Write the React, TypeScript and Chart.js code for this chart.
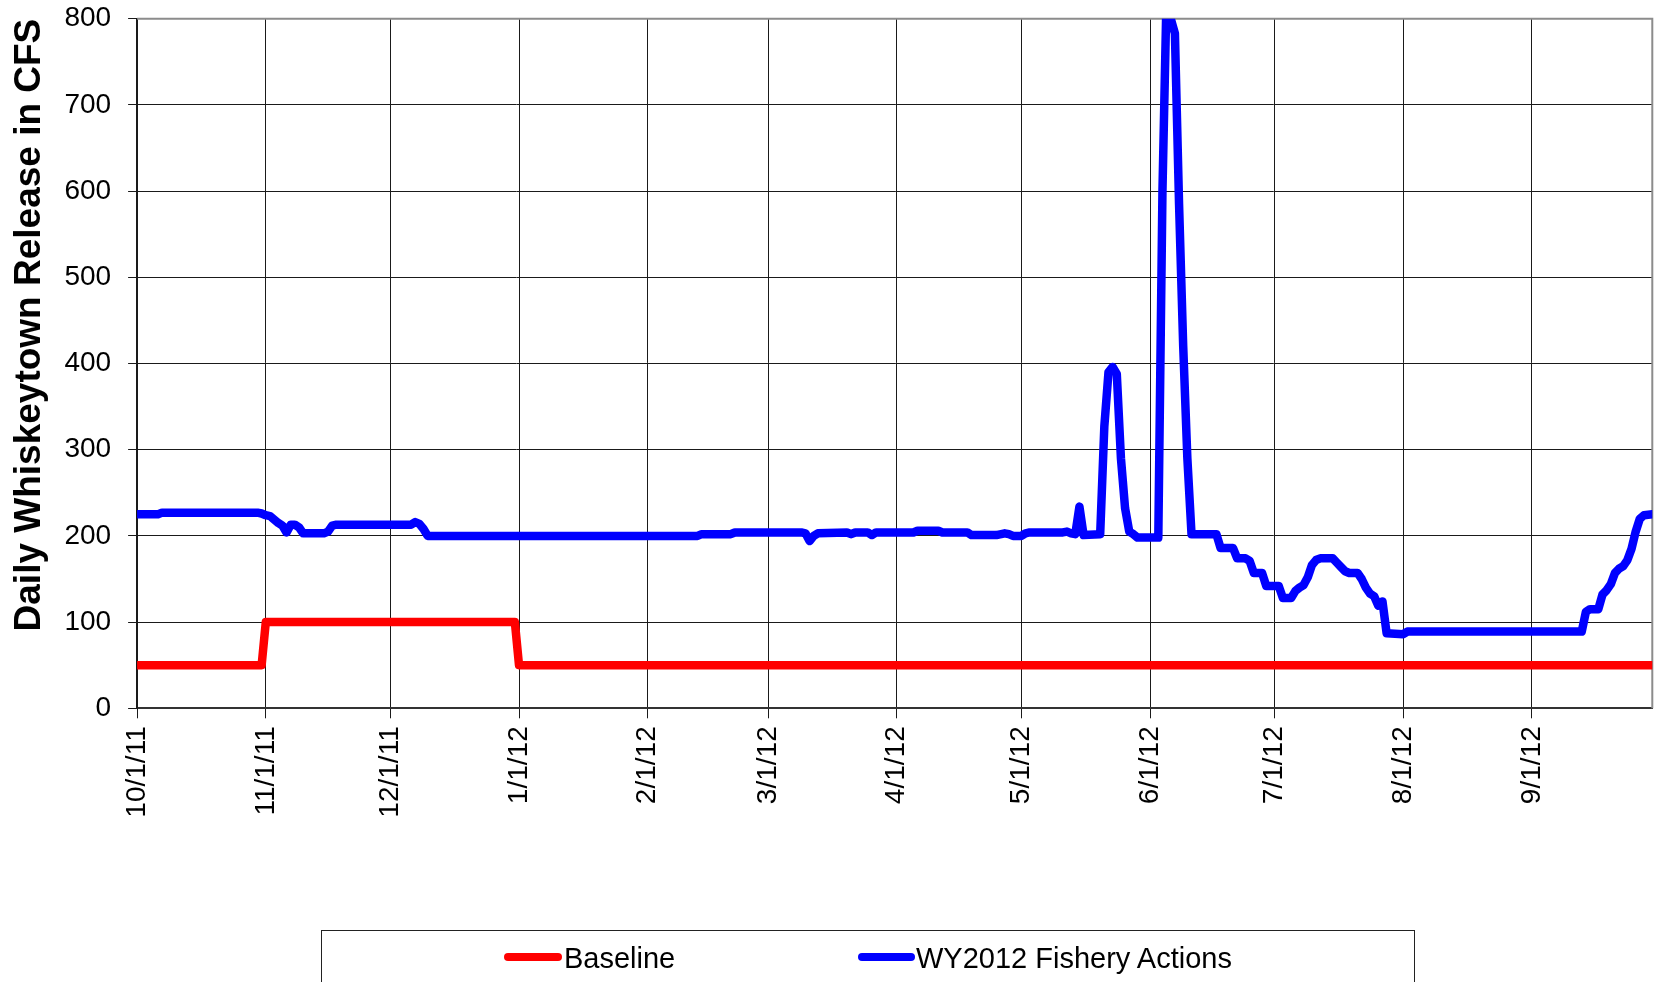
import React, { useEffect, useRef } from "react";
import { Chart, registerables } from "chart.js";

Chart.register(...registerables);

// Day index 0 = 10/1/11 ... 365 = 9/30/12
const monthTickDays = [0, 31, 61, 92, 123, 152, 183, 213, 244, 274, 305, 336];
const monthTickLabels = [
  "10/1/11", "11/1/11", "12/1/11", "1/1/12", "2/1/12", "3/1/12",
  "4/1/12", "5/1/12", "6/1/12", "7/1/12", "8/1/12", "9/1/12",
];

const baselineDays = [0, 30, 31, 91, 92, 365];
const baselineCfs = [50, 50, 100, 100, 50, 50];

const fisheryDays = [
  0, 5, 6, 29, 30, 31, 32, 33, 34, 35, 36, 37, 38, 39, 40, 45, 46, 47, 48, 66,
  67, 68, 69, 70, 135, 136, 143, 144, 160, 161, 162, 163, 164, 171, 172, 173, 176, 177, 178, 187,
  188, 193, 194, 200, 201, 207, 209, 210, 211, 213, 214, 215, 223, 224, 225, 226, 227, 228, 232, 233,
  234, 235, 236, 237, 238, 239, 240, 241, 246, 247, 248, 249, 250, 251, 252, 253, 254, 260, 261, 264,
  265, 267, 268, 269, 271, 272, 275, 276, 278, 279, 280, 281, 282, 283, 284, 285, 288, 289, 290, 291,
  292, 294, 295, 296, 297, 298, 299, 300, 301, 305, 306, 348, 349, 350, 352, 353, 354, 355, 356, 357,
  358, 359, 360, 361, 362, 363, 365,
];
const fisheryCfs = [
  225, 225, 227, 227, 226, 224, 223, 219, 215, 212, 204, 213, 213, 210, 203, 203, 205, 212, 213, 213,
  216, 214, 208, 200, 200, 202, 202, 204, 204, 203, 194, 200, 203, 204, 202, 204, 204, 201, 204, 204,
  206, 206, 204, 204, 201, 201, 203, 202, 200, 200, 203, 204, 204, 205, 203, 202, 234, 201, 202, 327,
  390, 396, 388, 290, 232, 205, 202, 198, 198, 600, 830, 800, 783, 585, 420, 290, 202, 202, 186, 186,
  174, 174, 171, 157, 157, 142, 142, 128, 128, 136, 140, 143, 152, 166, 172, 174, 174, 169, 164, 159,
  157, 157, 150, 140, 133, 130, 119, 124, 87, 86, 89, 89, 112, 115, 115, 132, 137, 144, 157, 162,
  165, 172, 185, 205, 220, 224, 225,
];

const seriesNames = ["Baseline", "WY2012 Fishery Actions"];
const seriesColors = ["#ff0000", "#0000ff"];

const FONT = "'Liberation Sans', Arial, Helvetica, sans-serif";

const plotBorder = {
  id: "plotBorder",
  beforeDatasetsDraw(chart: any) {
    const { ctx, chartArea } = chart;
    const { left, top, right, bottom } = chartArea;
    ctx.save();
    ctx.strokeStyle = "#8c8c8c";
    ctx.lineWidth = 2;
    ctx.beginPath();
    ctx.moveTo(left, top);
    ctx.lineTo(right, top);
    ctx.lineTo(right, bottom);
    ctx.stroke();
    ctx.restore();
  },
};

export default function App() {
  const canvasRef = useRef<HTMLCanvasElement | null>(null);

  useEffect(() => {
    if (!canvasRef.current) return;
    const toPoints = (xs: number[], ys: number[]) => xs.map((x, i) => ({ x, y: ys[i] }));
    const chart = new Chart(canvasRef.current, {
      type: "line",
      data: {
        datasets: [
          {
            label: seriesNames[0],
            data: toPoints(baselineDays, baselineCfs),
            borderColor: seriesColors[0],
            backgroundColor: seriesColors[0],
            borderWidth: 8.5,
            pointRadius: 0,
            tension: 0,
            borderJoinStyle: "round",
            borderCapStyle: "round",
            clip: 0,
          },
          {
            label: seriesNames[1],
            data: toPoints(fisheryDays, fisheryCfs),
            borderColor: seriesColors[1],
            backgroundColor: seriesColors[1],
            borderWidth: 8.5,
            pointRadius: 0,
            tension: 0,
            borderJoinStyle: "round",
            borderCapStyle: "round",
            clip: 0,
          },
        ],
      },
      options: {
        animation: false,
        responsive: true,
        maintainAspectRatio: false,
        devicePixelRatio: 1,
        layout: { padding: { top: 18.7, right: 9.7, left: 0, bottom: 0 } },
        plugins: {
          legend: { display: false },
          tooltip: { enabled: false },
        },
        scales: {
          x: {
            type: "linear",
            min: 0,
            max: 365,
            afterBuildTicks: (s: any) => {
              s.ticks = monthTickDays.map((v) => ({ value: v }));
            },
            afterFit: (s: any) => {
              s.height = 982 - 708.3;
              s.paddingLeft = 0;
              s.paddingRight = 0;
            },
            ticks: {
              autoSkip: false,
              minRotation: 90,
              maxRotation: 90,
              padding: 8,
              color: "#000",
              font: { family: FONT, size: 28 },
              callback: (_v: any, i: number) => monthTickLabels[i],
            },
            grid: { color: "#1a1a1a", lineWidth: 1, tickLength: 10, drawTicks: true },
            border: { color: "#333", width: 2 },
          },
          y: {
            type: "linear",
            min: 0,
            max: 800,
            afterFit: (s: any) => {
              s.width = 137.1;
              s.paddingTop = 0;
              s.paddingBottom = 0;
            },
            ticks: {
              stepSize: 100,
              padding: 17,
              color: "#000",
              font: { family: FONT, size: 28 },
            },
            grid: { color: "#1a1a1a", lineWidth: 1, tickLength: 9, drawTicks: true },
            border: { color: "#1a1a1a", width: 2 },
            title: {
              display: true,
              text: "Daily Whiskeytown Release in CFS",
              align: "end",
              color: "#000",
              font: { family: FONT, size: 37, weight: "bold" },
              padding: { top: 8, bottom: 0 },
            },
          },
        },
      },
      plugins: [plotBorder],
    } as any);
    return () => chart.destroy();
  }, []);

  const sampleStyle = (color: string, left: number, width: number): React.CSSProperties => ({
    position: "absolute",
    left,
    top: 953,
    width,
    height: 8,
    borderRadius: 4,
    background: color,
  });
  const textStyle = (left: number): React.CSSProperties => ({
    position: "absolute",
    left,
    top: 941,
    fontFamily: FONT,
    fontSize: 29,
    lineHeight: "34px",
    color: "#000",
    whiteSpace: "nowrap",
  });

  return (
    <div
      style={{
        position: "absolute",
        left: 0,
        top: 0,
        width: 1662,
        height: 982,
        overflow: "hidden",
        background: "#fff",
      }}
    >
      <div style={{ position: "absolute", left: 0, top: 0, width: 1662, height: 982 }}>
        <canvas ref={canvasRef} />
      </div>
      <div
        style={{
          position: "absolute",
          left: 321,
          top: 930,
          width: 1094,
          height: 100,
          border: "1.5px solid #222",
          boxSizing: "border-box",
        }}
      />
      <div style={sampleStyle(seriesColors[0], 504, 58)} />
      <div style={textStyle(564)}>{seriesNames[0]}</div>
      <div style={sampleStyle(seriesColors[1], 858, 57)} />
      <div style={textStyle(916)}>{seriesNames[1]}</div>
    </div>
  );
}
